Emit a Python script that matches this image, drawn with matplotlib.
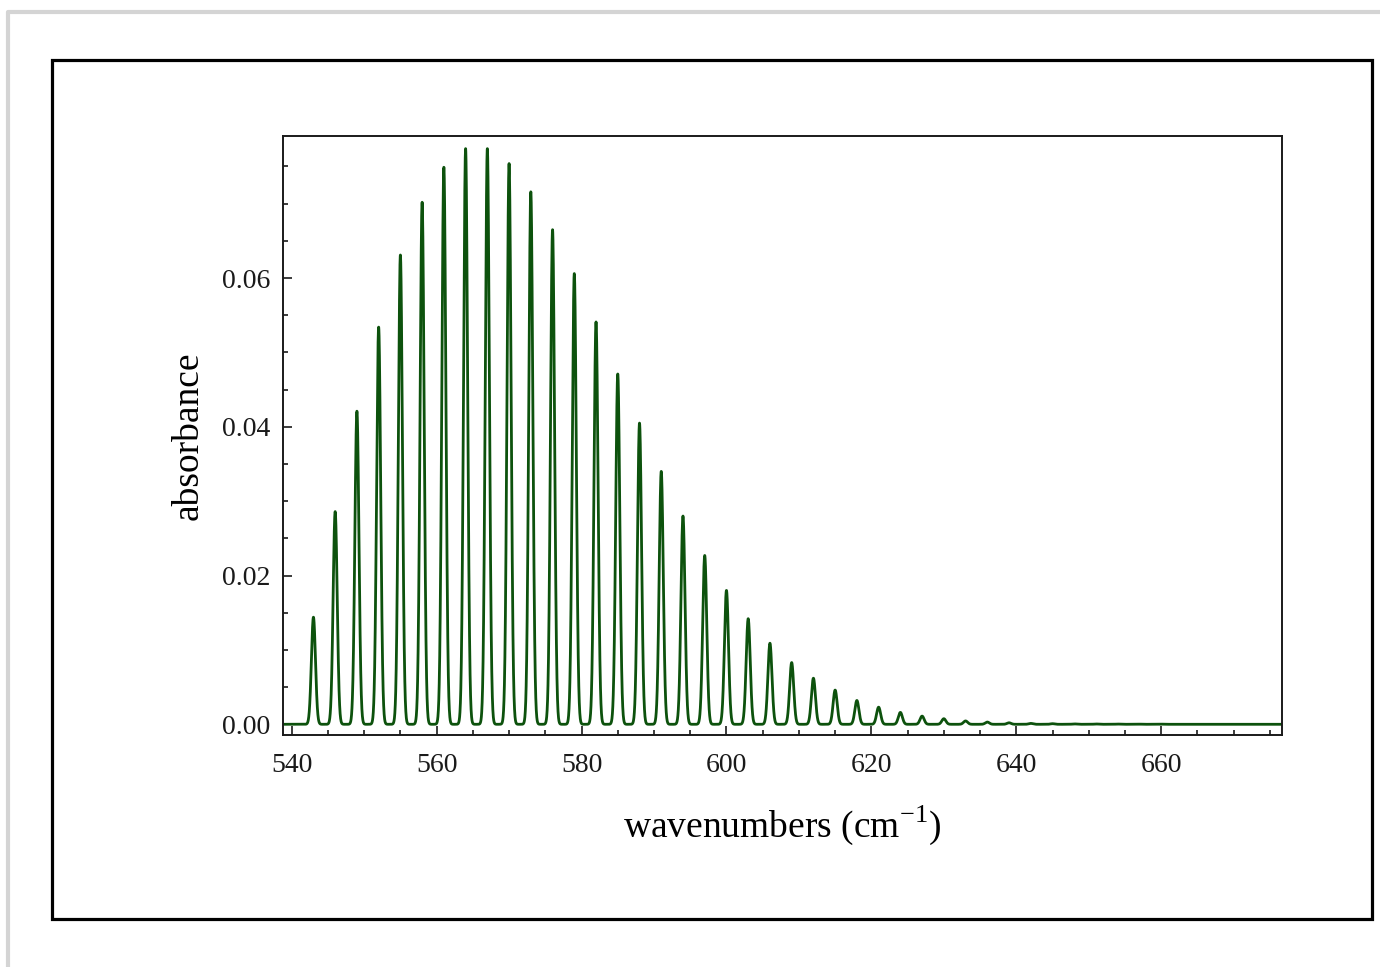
import numpy as np
import matplotlib
matplotlib.use('Agg')
import matplotlib.pyplot as plt
from matplotlib.patches import Rectangle
from matplotlib.lines import Line2D
from matplotlib.ticker import MultipleLocator, FormatStrFormatter

plt.rcParams['font.family'] = ['Liberation Serif', 'DejaVu Serif']
plt.rcParams['mathtext.fontset'] = 'custom'
plt.rcParams['mathtext.rm'] = 'Liberation Serif'

# line positions (cm^-1) and peak absorbance
peak_pos = [543, 546, 549, 552, 555, 558, 561, 564, 567, 570, 573, 576, 579,
            582, 585, 588, 591, 594, 597, 600, 603, 606, 609, 612, 615, 618,
            621, 624, 627, 630, 633, 636, 639, 642, 645, 648, 651, 654, 657,
            660, 663, 666, 669, 672, 675]
peak_height = [0.0144, 0.0286, 0.0421, 0.0534, 0.0631, 0.0702, 0.0749, 0.0774,
               0.0774, 0.0754, 0.0716, 0.0665, 0.0606, 0.0541, 0.0471, 0.0405,
               0.0340, 0.0280, 0.0227, 0.0180, 0.0142, 0.0109, 0.0083, 0.0062,
               0.0046, 0.0032, 0.0023, 0.0016, 0.0011, 0.00075, 0.00045, 0.0003,
               0.0002, 0.00012, 0.00008, 0.00005, 0.00004, 0.00003, 0.00002,
               0.00002, 0.00001, 0.00001, 0.00001, 0.00001, 0.00001]
line_sigma = 0.28

x_range = (538.8, 676.6)
y_range = (-0.00144, 0.0791)

# build the spectrum from the line list
wn = np.linspace(x_range[0], x_range[1], 14000)
absorb = np.zeros_like(wn)
for p, h in zip(peak_pos, peak_height):
    absorb += h * np.exp(-0.5 * ((wn - p) / line_sigma) ** 2)

W, H = 1380, 967
fig = plt.figure(figsize=(W / 100, H / 100), dpi=100)

# page border (light gray) and black frame
fig.add_artist(Line2D([8 / W, 8 / W, 1.0], [0.0, 1 - 12 / H, 1 - 12 / H],
                      transform=fig.transFigure, color='#d4d4d4', lw=3.0))
fig.add_artist(Rectangle((52 / W, 1 - 919 / H), 1320 / W, 859 / H,
                         transform=fig.transFigure, fill=False,
                         edgecolor='black', lw=2.3))

ax = fig.add_axes([283 / W, 1 - 735 / H, 998.5 / W, 599 / H])
ax.plot(wn, absorb, color='#0d520d', lw=2.0)
ax.set_xlim(*x_range)
ax.set_ylim(*y_range)

ax.xaxis.set_major_locator(MultipleLocator(20))
ax.xaxis.set_minor_locator(MultipleLocator(5))
ax.yaxis.set_major_locator(MultipleLocator(0.02))
ax.yaxis.set_minor_locator(MultipleLocator(0.005))
ax.yaxis.set_major_formatter(FormatStrFormatter('%.2f'))

ax.tick_params(which='both', direction='in', top=False, right=False,
               labelsize=20, colors='#1a1a1a', width=1.2)
ax.tick_params(which='major', length=6.5)
ax.tick_params(which='minor', length=3.5)
ax.tick_params(axis='x', which='major', pad=13)
ax.tick_params(axis='y', which='major', pad=9)
for s in ax.spines.values():
    s.set_linewidth(1.4)
    s.set_color('#1a1a1a')

ax.set_xlabel(r'wavenumbers (cm$^{-1}$)', fontsize=27, labelpad=18)
ax.set_ylabel('absorbance', fontsize=27, labelpad=12)

fig.savefig('out.png', dpi=100)
